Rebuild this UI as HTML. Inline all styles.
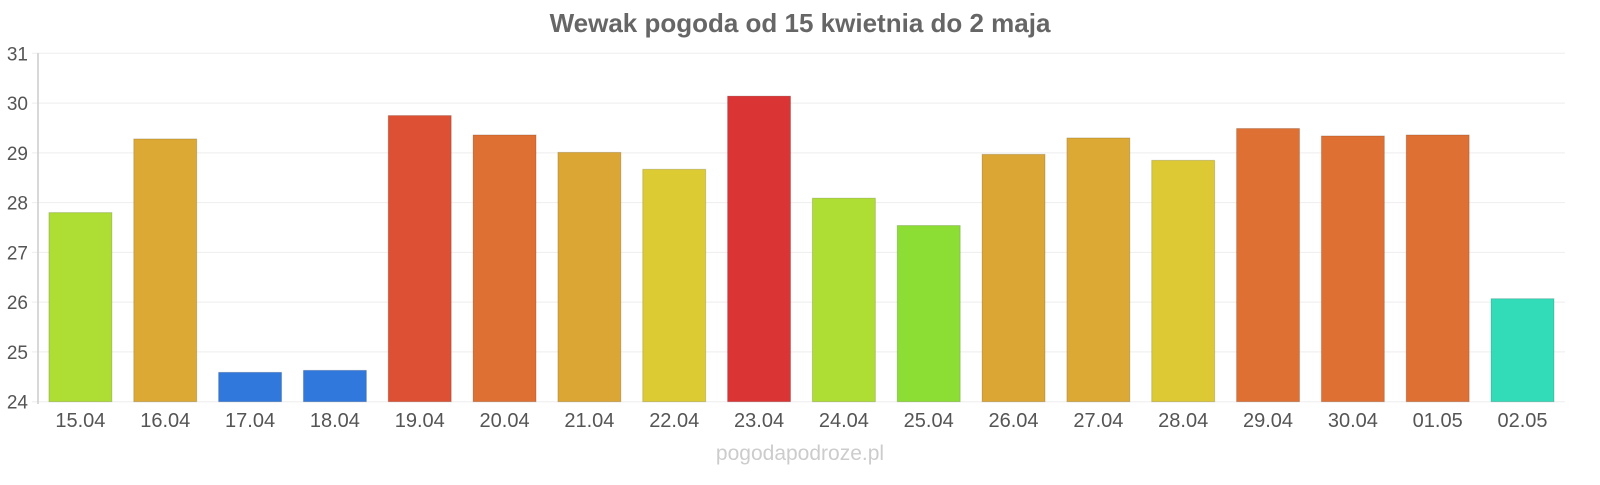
<!DOCTYPE html>
<html><head><meta charset="utf-8"><style>body{margin:0;background:#fff}</style></head><body>
<svg width="1600" height="480" xmlns="http://www.w3.org/2000/svg" font-family="Liberation Sans, sans-serif">
<rect width="1600" height="480" fill="#fff"/>
<text x="800" y="32" text-anchor="middle" font-size="26" font-weight="bold" fill="#666">Wewak pogoda od 15 kwietnia do 2 maja</text>
<g id="grid"></g>
<g id="bars"></g>
<line x1="38" y1="53" x2="38" y2="404" stroke="#ccc" stroke-width="1.5"/>
<text x="800" y="460" text-anchor="middle" font-size="21" fill="#ccc">pogodapodroze.pl</text>
<script>
var ns="http://www.w3.org/2000/svg";
var base=401.7,sc=49.77,g=document.getElementById('grid'),b=document.getElementById('bars');
for(var v=24;v<=31;v++){var y=base-(v-24)*sc;
var l=document.createElementNS(ns,'line');l.setAttribute('x1',32);l.setAttribute('x2',1565);l.setAttribute('y1',y);l.setAttribute('y2',y);l.setAttribute('stroke','#eee');g.appendChild(l);
var t=document.createElementNS(ns,'text');t.setAttribute('x',28);t.setAttribute('y',y+7);t.setAttribute('text-anchor','end');t.setAttribute('font-size','19');t.setAttribute('fill','#555');t.textContent=v;g.appendChild(t);}
var d=[["15.04",27.8,"#aedd33"],["16.04",29.28,"#dca934"],["17.04",24.59,"#3178dc"],["18.04",24.63,"#3178dc"],["19.04",29.75,"#de5033"],["20.04",29.36,"#de7033"],["21.04",29.01,"#dca634"],["22.04",28.67,"#dccb33"],["23.04",30.14,"#db3434"],["24.04",28.09,"#aedd33"],["25.04",27.54,"#8cdd34"],["26.04",28.97,"#dca634"],["27.04",29.3,"#dca934"],["28.04",28.85,"#dcc933"],["29.04",29.49,"#de7033"],["30.04",29.34,"#de7033"],["01.05",29.36,"#de7033"],["02.05",26.07,"#33dcb9"]];
var cw=84.83;
d.forEach(function(e,i){var cx=38+cw*(i+0.5),y=base-(e[1]-24)*sc;
var r=document.createElementNS(ns,'rect');r.setAttribute('x',cx-31.5);r.setAttribute('width',63);r.setAttribute('y',y);r.setAttribute('height',base-y);r.setAttribute('fill',e[2]);r.setAttribute('stroke','rgba(0,0,0,0.15)');b.appendChild(r);
var t=document.createElementNS(ns,'text');t.setAttribute('x',cx);t.setAttribute('y',427);t.setAttribute('text-anchor','middle');t.setAttribute('font-size','20');t.setAttribute('fill','#555');t.textContent=e[0];b.appendChild(t);});
</script>
</svg>
</body></html>
